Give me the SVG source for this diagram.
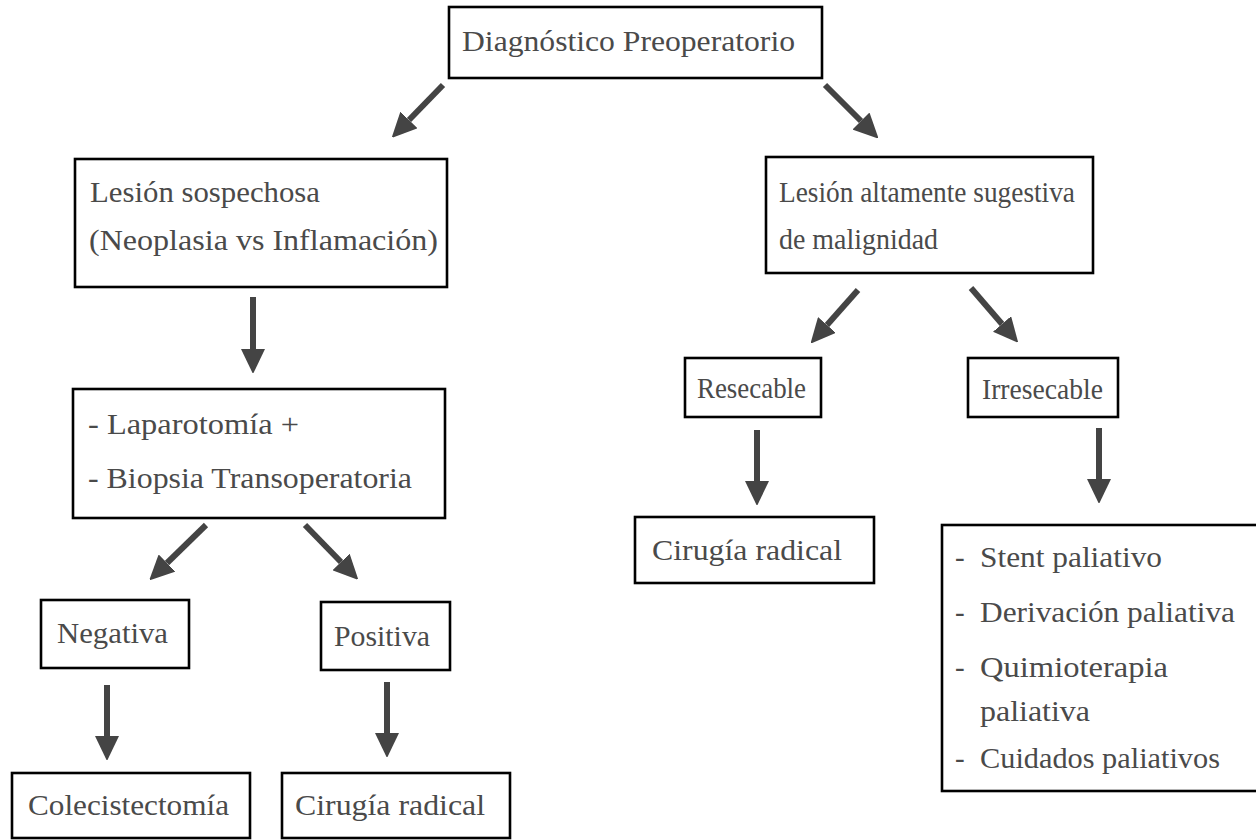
<svg xmlns="http://www.w3.org/2000/svg" width="1256" height="840" viewBox="0 0 1256 840">
  <style>
    .box { fill: #ffffff; stroke: #000000; stroke-width: 2.6; }
    .lbl { font-family: "Liberation Serif", "Times New Roman", serif; font-size: 29px; fill: #4a4a4a; }
    .arrow { stroke: #444444; stroke-width: 6; fill: none; marker-end: url(#head); }
  </style>
  <defs>
    <marker id="head" viewBox="0 0 24 24" refX="0" refY="12" markerWidth="24" markerHeight="24" markerUnits="userSpaceOnUse" orient="auto">
      <path d="M0,0 L25,12 L0,24 Z" fill="#444444"/>
    </marker>
  </defs>
  <rect width="1256" height="840" fill="#ffffff"/>

  <g id="connectors">
    <line class="arrow" x1="443" y1="85" x2="409" y2="120"/>
    <line class="arrow" x1="825" y1="85" x2="861" y2="121"/>
    <line class="arrow" x1="253" y1="297" x2="253" y2="349"/>
    <line class="arrow" x1="206" y1="525" x2="167" y2="563"/>
    <line class="arrow" x1="305" y1="525" x2="341" y2="562"/>
    <line class="arrow" x1="107" y1="685" x2="107" y2="736"/>
    <line class="arrow" x1="387" y1="682" x2="387" y2="733"/>
    <line class="arrow" x1="858" y1="290" x2="827" y2="325"/>
    <line class="arrow" x1="971" y1="288" x2="1002" y2="324"/>
    <line class="arrow" x1="757" y1="430" x2="757" y2="481"/>
    <line class="arrow" x1="1099" y1="428" x2="1099" y2="479"/>
  </g>

  <g id="diagnostico">
    <rect class="box" x="449" y="7" width="373" height="71"/>
    <text class="lbl" x="462" y="51" textLength="333" lengthAdjust="spacingAndGlyphs">Diagnóstico Preoperatorio</text>
  </g>

  <g id="lesion-sospechosa">
    <rect class="box" x="75" y="159" width="372" height="128"/>
    <text class="lbl" x="90" y="202" textLength="230" lengthAdjust="spacingAndGlyphs">Lesión sospechosa</text>
    <text class="lbl" x="89" y="250" textLength="349" lengthAdjust="spacingAndGlyphs">(Neoplasia vs Inflamación)</text>
  </g>

  <g id="laparotomia">
    <rect class="box" x="73" y="389" width="372" height="129"/>
    <text class="lbl" x="88" y="434" textLength="211" lengthAdjust="spacingAndGlyphs">- Laparotomía +</text>
    <text class="lbl" x="88" y="488" textLength="324" lengthAdjust="spacingAndGlyphs">- Biopsia Transoperatoria</text>
  </g>

  <g id="negativa">
    <rect class="box" x="41" y="600" width="148" height="68"/>
    <text class="lbl" x="57" y="643" textLength="111" lengthAdjust="spacingAndGlyphs">Negativa</text>
  </g>

  <g id="positiva">
    <rect class="box" x="321" y="602" width="129" height="68"/>
    <text class="lbl" x="334" y="646" textLength="96" lengthAdjust="spacingAndGlyphs">Positiva</text>
  </g>

  <g id="colecistectomia">
    <rect class="box" x="12" y="773" width="238" height="65"/>
    <text class="lbl" x="28" y="815" textLength="201" lengthAdjust="spacingAndGlyphs">Colecistectomía</text>
  </g>

  <g id="cirugia-radical-izq">
    <rect class="box" x="282" y="773" width="228" height="65"/>
    <text class="lbl" x="295" y="815" textLength="190" lengthAdjust="spacingAndGlyphs">Cirugía radical</text>
  </g>

  <g id="lesion-maligna">
    <rect class="box" x="766" y="157" width="327" height="116"/>
    <text class="lbl" x="779" y="202" textLength="296" lengthAdjust="spacingAndGlyphs">Lesión altamente sugestiva</text>
    <text class="lbl" x="779" y="249" textLength="159" lengthAdjust="spacingAndGlyphs">de malignidad</text>
  </g>

  <g id="resecable">
    <rect class="box" x="685" y="358" width="136" height="59"/>
    <text class="lbl" x="697" y="398" textLength="109" lengthAdjust="spacingAndGlyphs">Resecable</text>
  </g>

  <g id="irresecable">
    <rect class="box" x="968" y="358" width="150" height="59"/>
    <text class="lbl" x="982" y="399" textLength="121" lengthAdjust="spacingAndGlyphs">Irresecable</text>
  </g>

  <g id="cirugia-radical-der">
    <rect class="box" x="635" y="517" width="239" height="66"/>
    <text class="lbl" x="652" y="560" textLength="190" lengthAdjust="spacingAndGlyphs">Cirugía radical</text>
  </g>

  <g id="paliativos">
    <rect class="box" x="942" y="525" width="330" height="266"/>
    <text class="lbl" x="955" y="567">-</text>
    <text class="lbl" x="980" y="567" textLength="182" lengthAdjust="spacingAndGlyphs">Stent paliativo</text>
    <text class="lbl" x="955" y="622">-</text>
    <text class="lbl" x="980" y="622" textLength="255" lengthAdjust="spacingAndGlyphs">Derivación paliativa</text>
    <text class="lbl" x="955" y="677">-</text>
    <text class="lbl" x="980" y="677" textLength="188" lengthAdjust="spacingAndGlyphs">Quimioterapia</text>
    <text class="lbl" x="980" y="721" textLength="110" lengthAdjust="spacingAndGlyphs">paliativa</text>
    <text class="lbl" x="955" y="768">-</text>
    <text class="lbl" x="980" y="768" textLength="240" lengthAdjust="spacingAndGlyphs">Cuidados paliativos</text>
  </g>
</svg>
